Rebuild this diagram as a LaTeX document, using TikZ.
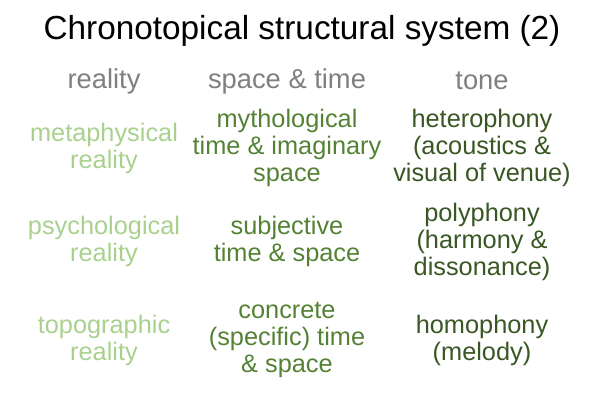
\documentclass[tikz,border=0pt]{standalone}
\usepackage{fontspec}
\setmainfont{Liberation Sans}
\definecolor{lgreen}{HTML}{A9D18E}
\definecolor{mgreen}{HTML}{548235}
\definecolor{dgreen}{HTML}{385723}
\definecolor{hgray}{HTML}{7F7F7F}
\begin{document}
\begin{tikzpicture}[x=0.75pt,y=-0.75pt,
  cell/.style={align=center,inner sep=0pt,font=\fontsize{19}{20.25}\selectfont},
  c1/.style={cell,text=lgreen},
  c2/.style={cell,text=mgreen},
  c3/.style={cell,text=dgreen},
  head/.style={inner sep=0pt,text=hgray,font=\fontsize{20.5}{23}\selectfont},
  titlestyle/.style={inner sep=0pt,font=\fontsize{25}{28}\selectfont}]
\useasboundingbox (0,0) rectangle (600,400);
\node[titlestyle] (title) at (302,31) {Chronotopical structural system (2)};
\node[head] (h1) at (104,81) {reality};
\node[head] (h2) at (287,81) {space \& time};
\node[head] (h3) at (482,81) {tone};
\node[c1] (r1c1) at (104,148) {metaphysical\\reality};
\node[c2] (r1c2) at (287,148) {mythological\\time \& imaginary\\space};
\node[c3] (r1c3) at (482,148) {heterophony\\(acoustics \&\\visual of venue)};
\node[c1] (r2c1) at (104,241) {psychological\\reality};
\node[c2] (r2c2) at (287,241) {subjective\\time \& space};
\node[c3] (r2c3) at (482,242) {polyphony\\(harmony \&\\dissonance)};
\node[c1] (r3c1) at (104,340) {topographic\\reality};
\node[c2] (r3c2) at (287,340) {concrete\\(specific) time\\\& space};
\node[c3] (r3c3) at (482,340) {homophony\\(melody)};
\end{tikzpicture}
\end{document}
